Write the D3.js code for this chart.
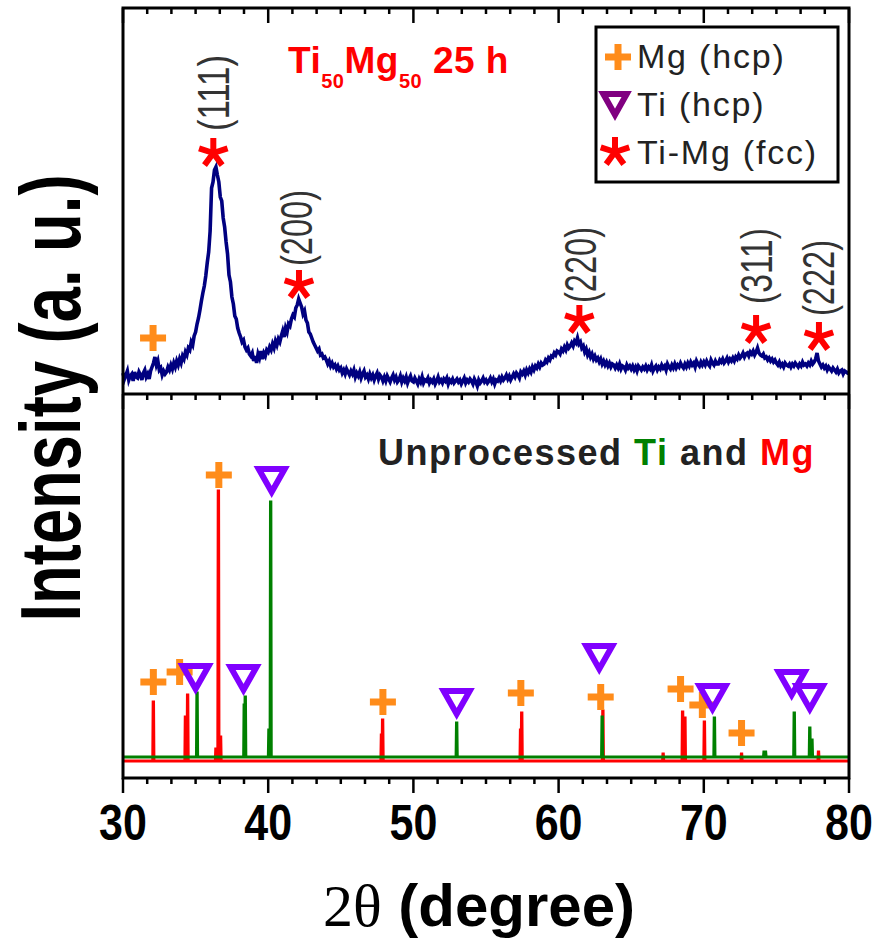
<!DOCTYPE html>
<html>
<head>
<meta charset="utf-8">
<title>XRD Ti50Mg50</title>
<script src="https://d3js.org/d3.v7.min.js"></script>
<style>
  body { margin: 0; background: #fff; }
  svg { display: block; }
</style>
</head>
<body>
<svg id="chart" width="877" height="941"></svg>
<script>
// ---- data ----
const twoThetaStart = 30
const twoThetaStep = 0.1
// milled Ti50Mg50 25 h pattern, one value every 0.1 deg (a.u.)
const milledIntensity = [
  21,15,19,23,14,18,20,13,22,17,
  16,22,19,14,21,24,17,20,15,23,
  27,31,37,29,33,24,26,19,23,20,
  22,27,24,29,25,31,27,33,29,35,
  31,38,35,42,39,46,44,52,49,58,
  62,70,76,84,93,101,108,118,131,142,
  163,206,212,224,227,219,212,197,193,176,
  167,152,140,119,112,97,90,78,75,66,
  61,57,52,54,47,44,46,40,38,41,
  33,38,31,40,36,43,35,41,38,44,
  42,47,44,50,46,53,49,55,52,58,
  63,57,66,62,70,68,75,79,77,86,
  89,95,91,87,80,83,74,71,62,60,
  56,52,49,46,43,45,39,40,36,37,
  34,30,33,28,31,27,29,25,28,24,
  26,21,24,20,25,22,19,23,20,24,
  17,21,18,22,16,20,23,17,19,15,
  20,16,19,14,18,21,15,19,17,13,
  17,13,18,15,12,16,19,14,17,12,
  14,18,12,16,13,17,11,15,18,13,
  12,16,13,10,15,12,17,11,14,13,
  16,11,14,12,15,10,13,17,12,14,
  11,15,13,16,10,14,12,15,11,13,
  15,12,14,10,13,16,11,14,12,15,
  13,10,15,12,8,14,11,13,16,12,
  14,11,13,16,12,15,10,14,13,16,
  13,17,14,16,19,15,18,14,17,20,
  17,21,19,16,22,20,23,19,24,21,
  25,22,27,24,28,26,30,27,31,29,
  30,34,32,36,34,38,37,41,39,43,
  42,40,45,43,47,44,49,46,48,51,
  48,53,51,56,50,52,46,48,42,45,
  39,42,37,40,35,38,34,36,32,35,
  30,33,29,32,28,31,27,30,29,26,
  29,26,30,25,28,27,24,29,26,28,
  25,28,24,27,23,28,26,24,27,25,
  28,24,27,25,29,23,26,28,24,27,
  25,29,26,28,24,30,27,25,29,26,
  30,26,29,27,31,28,26,30,27,31,
  28,32,29,31,27,33,30,28,32,29,
  32,29,33,30,28,34,31,29,33,30,
  30,34,32,35,31,33,36,32,35,33,
  36,33,37,35,39,36,38,41,37,40,
  41,38,42,40,43,39,42,46,41,39,
  38,40,36,37,34,36,33,35,32,34,
  31,29,32,28,30,27,31,29,28,30,
  27,30,28,31,29,27,30,28,32,29,
  30,28,31,29,33,30,32,35,41,33,
  30,27,29,26,28,24,27,25,23,26,
  24,22,25,21,23,24,20,23,22,21,
  22
]

// unprocessed powders: peak position (deg) and height (a.u.)
const mgPeakPos    = [32.09, 34.30, 34.45, 36.40, 36.57, 36.72, 47.80, 47.88, 57.38, 57.46, 63.05, 67.20, 68.54, 68.70, 70.04, 72.60, 77.90]
const mgPeakHeight = [59,    44,    66,    12,    270,   24,    26,    41,    31,    48,    50,    7,     49,    43,    39,    7,     9]
const tiPeakPos    = [35.10, 38.35, 38.42, 40.05, 40.17, 52.98, 63.00, 70.73, 74.15, 74.25, 76.23, 77.30, 77.45]
const tiPeakHeight = [64,    52,    60,    27,    255,   34,    40,    39,    5,     5,     44,    29,    17]
const tiOffset = 4

// phase markers, bottom panel
const mgMark2Theta = [32.09, 33.9, 36.6, 47.9, 57.4, 62.9, 68.4, 69.9, 72.6]
const mgMarkI      = [79,    89,   286,  59,   68,   64,   72,   56,   28]
const tiMark2Theta = [35.0, 38.3, 40.24, 52.98, 62.8, 70.6, 76.05, 77.3]
const tiMarkI      = [84,   83,   281,   59,    104,  64,   78,    64]

// phase markers, top panel
const fccMark2Theta = [36.22, 42.12, 61.43, 73.6, 77.93]
const fccMarkI      = [241,   109,   74,    64,   57]
const fccLabels     = ["(111)", "(200)", "(220)", "(311)", "(222)"]
const fccLabel2Theta = [36.2, 41.98, 61.5, 73.66, 77.9]
const fccLabelI      = [301,  166,   129,  128,   116]
const mgTopMark2Theta = [32.07]
const mgTopMarkI      = [56]

const xTickValues = [30, 40, 50, 60, 70, 80]
const legendLabels = ["Mg (hcp)", "Ti (hcp)", "Ti-Mg (fcc)"]

// ---- layout ----
const left = 123, right = 849
const topY = 8, midY = 394, bottomY = 778

const colNavy = "#000080", colRed = "#ff0000", colGreen = "#008000"
const colOrange = "#ff8c1a", colViolet = "#8000ff", colPurple = "#800080"

const svg = d3.select("#chart")

const x = d3.scaleLinear().domain([30, 80]).range([left, right])
const yTop = d3.scaleLinear().domain([0, 386]).range([midY, topY])
const yBot = d3.scaleLinear().domain([0, 367]).range([761, midY])

// ---- marker shapes ----
function plus(g, cx, cy) {
  g.append("path")
    .attr("d", `M${cx - 13},${cy} H${cx + 13} M${cx},${cy - 13} V${cy + 13}`)
    .attr("stroke", colOrange).attr("stroke-width", 7).attr("fill", "none")
}
function tri(g, cx, cy, col, s) {
  s = s || 1
  g.append("path")
    .attr("d", `M${cx - 13 * s},${cy - 11 * s} L${cx + 13 * s},${cy - 11 * s} L${cx},${cy + 12 * s} Z`)
    .attr("stroke", col).attr("stroke-width", 6).attr("fill", "none")
    .attr("stroke-linejoin", "miter")
}
function star(g, cx, cy) {
  let d = ""
  for (let k = 0; k < 5; k++) {
    const a = (-90 + 72 * k) * Math.PI / 180
    d += `M${cx},${cy} L${cx + 15 * Math.cos(a)},${cy + 15 * Math.sin(a)} `
  }
  g.append("path").attr("d", d)
    .attr("stroke", colRed).attr("stroke-width", 6).attr("fill", "none")
}

// ---- top panel: milled pattern ----
const milled = milledIntensity.map((v, i) => [twoThetaStart + i * twoThetaStep, v])
svg.append("path")
  .datum(milled)
  .attr("d", d3.line().x(d => x(d[0])).y(d => yTop(d[1])))
  .attr("fill", "none").attr("stroke", colNavy).attr("stroke-width", 3.6)

const topMarks = svg.append("g")
fccMark2Theta.forEach((t, i) => star(topMarks, x(t), yTop(fccMarkI[i])))
mgTopMark2Theta.forEach((t, i) => plus(topMarks, x(t), yTop(mgTopMarkI[i])))

svg.append("g").selectAll("text")
  .data(fccLabels).join("text")
  .attr("transform", (d, i) => `translate(${x(fccLabel2Theta[i])},${yTop(fccLabelI[i])}) rotate(-90)`)
  .attr("text-anchor", "middle").attr("dominant-baseline", "central")
  .attr("textLength", 76).attr("lengthAdjust", "spacingAndGlyphs")
  .style("font-family", "Liberation Sans, Arial, sans-serif")
  .style("font-size", "44px").attr("fill", "#333")
  .text(d => d)

const ttl = svg.append("text")
  .attr("x", 288).attr("y", 73)
  .style("font-family", "Liberation Sans, Arial, sans-serif")
  .style("font-weight", "bold").style("font-size", "37px")
  .style("letter-spacing", "0.5px").attr("fill", colRed)
ttl.append("tspan").text("Ti")
ttl.append("tspan").attr("dy", 15).style("font-size", "20px").text("50")
ttl.append("tspan").attr("dy", -15).text("Mg")
ttl.append("tspan").attr("dy", 15).style("font-size", "20px").text("50")
ttl.append("tspan").attr("dy", -15).text(" 25 h")

// legend
const leg = svg.append("g")
leg.append("rect").attr("x", 596).attr("y", 27).attr("width", 242).attr("height", 155)
  .attr("fill", "#fff").attr("stroke", "#000").attr("stroke-width", 3)
plus(leg, 618, 57)
tri(leg, 615, 104, colPurple, 0.9)
star(leg, 615, 152)
leg.selectAll("text.lg").data(legendLabels).join("text")
  .attr("class", "lg")
  .attr("x", 637).attr("y", (d, i) => 68 + i * 48)
  .style("font-family", "Liberation Sans, Arial, sans-serif")
  .style("font-size", "34px").style("letter-spacing", "1.8px")
  .attr("fill", "#222").text(d => d)

// ---- bottom panel: unprocessed powders ----
function stickLine(pos, h, base) {
  const pts = [[30, base]]
  const order = d3.range(pos.length).sort((a, b) => pos[a] - pos[b])
  order.forEach(i => {
    pts.push([pos[i] - 0.04, base], [pos[i] - 0.012, base + h[i]],
             [pos[i] + 0.012, base + h[i]], [pos[i] + 0.04, base])
  })
  pts.push([80, base])
  return pts
}
const lineB = d3.line().x(d => x(d[0])).y(d => yBot(d[1]))
svg.append("path").datum(stickLine(mgPeakPos, mgPeakHeight, 0))
  .attr("d", lineB).attr("fill", "none").attr("stroke", colRed).attr("stroke-width", 3)
svg.append("path").datum(stickLine(tiPeakPos, tiPeakHeight, tiOffset))
  .attr("d", lineB).attr("fill", "none").attr("stroke", colGreen).attr("stroke-width", 3)

const botMarks = svg.append("g")
mgMark2Theta.forEach((t, i) => plus(botMarks, x(t), yBot(mgMarkI[i])))
tiMark2Theta.forEach((t, i) => tri(botMarks, x(t), yBot(tiMarkI[i]), colViolet, 1))

const sub = svg.append("text")
  .attr("x", 378).attr("y", 465)
  .style("font-family", "Liberation Sans, Arial, sans-serif")
  .style("font-weight", "bold").style("font-size", "36px")
  .style("letter-spacing", "1.5px").attr("fill", "#222")
sub.append("tspan").text("Unprocessed ")
sub.append("tspan").attr("fill", colGreen).text("Ti")
sub.append("tspan").text(" and ")
sub.append("tspan").attr("fill", colRed).text("Mg")

// ---- frame and ticks ----
const frame = svg.append("g").attr("stroke", "#000").attr("fill", "none")
frame.append("rect").attr("x", left).attr("y", topY)
  .attr("width", right - left).attr("height", bottomY - topY).attr("stroke-width", 3)
frame.append("line").attr("x1", left).attr("x2", right)
  .attr("y1", midY).attr("y2", midY).attr("stroke-width", 3)

const minorTicks = d3.range(0, 31).map(i => 30 + i * 10 / 6)
  .filter(v => Math.abs(v - Math.round(v / 10) * 10) > 0.01)
function ticksAt(y0) {
  const g = svg.append("g")
  g.selectAll("line.mn").data(minorTicks).join("line").attr("class", "mn")
    .attr("x1", d => x(d)).attr("x2", d => x(d))
    .attr("y1", y0).attr("y2", y0 + 6)
    .attr("stroke", "#000").attr("stroke-width", 2.5)
  g.selectAll("line.mj").data(xTickValues).join("line").attr("class", "mj")
    .attr("x1", d => x(d)).attr("x2", d => x(d))
    .attr("y1", y0).attr("y2", y0 + 15)
    .attr("stroke", "#000").attr("stroke-width", 2.5)
}
ticksAt(topY)
ticksAt(midY)
ticksAt(bottomY)

// tick labels, slightly condensed like the original
svg.append("g").selectAll("text").data(xTickValues).join("text")
  .attr("transform", d => `translate(${x(d)},840) scale(0.86,1)`)
  .attr("text-anchor", "middle")
  .style("font-family", "Liberation Sans, Arial, sans-serif")
  .style("font-weight", "bold").style("font-size", "50px")
  .attr("fill", "#000").text(d => d)

const xt = svg.append("text")
  .attr("x", 479).attr("y", 926).attr("text-anchor", "middle")
  .style("font-size", "60px").attr("fill", "#000")
xt.append("tspan").style("font-family", "Liberation Serif, Times New Roman, serif").text("2θ")
xt.append("tspan").style("font-family", "Liberation Sans, Arial, sans-serif")
  .style("font-weight", "bold").text(" (degree)")

svg.append("text")
  .attr("transform", "translate(80,398) rotate(-90)")
  .attr("text-anchor", "middle")
  .attr("textLength", 447).attr("lengthAdjust", "spacingAndGlyphs")
  .style("font-family", "Liberation Sans, Arial, sans-serif")
  .style("font-weight", "bold").style("font-size", "86px")
  .attr("fill", "#000").text("Intensity (a. u.)")
</script>
</body>
</html>
